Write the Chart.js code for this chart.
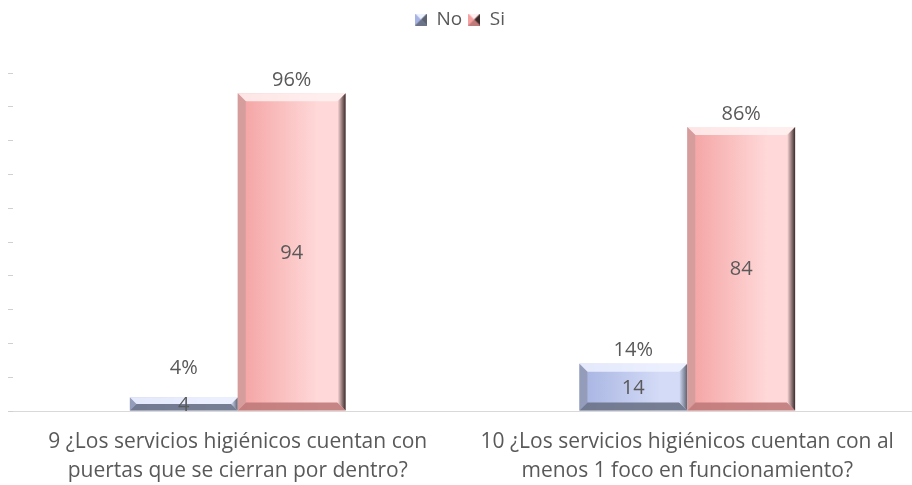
<!DOCTYPE html>
<html>
<head>
<meta charset="utf-8">
<script src="https://cdn.jsdelivr.net/npm/chart.js@4/dist/chart.umd.min.js"></script>
<style>
  html, body { margin: 0; padding: 0; background: #fff; }
  #wrap { width: 912px; height: 485px; }
</style>
</head>
<body>
<div id="wrap"><canvas id="chart"></canvas></div>
<script>
// datos del gráfico
const categories = [
  ["9 ¿Los servicios higiénicos cuentan con", "puertas que se cierran por dentro?"],
  ["10 ¿Los servicios higiénicos cuentan con al", "menos 1 foco en funcionamiento?"],
];
const seriesNames = ["No", "Si"];
const noValues = [4, 14];
const siValues = [94, 84];
const yTicks = [0, 10, 20, 30, 40, 50, 60, 70, 80, 90, 100];

// paleta de cada serie: base, claro, bisel claro, bisel oscuro, borde
const palettes = [
  { base: "#a7b3e2", light: "#d3dbf6", top: "#eef2ff", bottom: "#6b7388", side: "#8a92a8", edge: "#5c6270" },
  { base: "#f4a1a1", light: "#ffd9d9", top: "#fff1f1", bottom: "#c07a7a", side: "#c99a9a", edge: "#3a2a2a" },
];

const textColor = "#595959";
const fontFamily = "'Open Sans', 'Liberation Sans', sans-serif";

// Icono pequeño con bisel para la leyenda
function legendIcon(p) {
  const c = document.createElement("canvas");
  c.width = 12; c.height = 12;
  const g = c.getContext("2d");
  g.fillStyle = p.base; g.fillRect(0, 0, 12, 12);
  g.fillStyle = p.top;
  g.beginPath(); g.moveTo(0, 0); g.lineTo(12, 0); g.lineTo(6, 6); g.closePath(); g.fill();
  g.fillStyle = p.bottom;
  g.beginPath(); g.moveTo(0, 12); g.lineTo(12, 12); g.lineTo(6, 6); g.closePath(); g.fill();
  g.fillStyle = p.edge;
  g.beginPath(); g.moveTo(12, 0); g.lineTo(12, 12); g.lineTo(6, 6); g.closePath(); g.fill();
  return c;
}

// Dibuja cada barra con efecto biselado usando la geometría que calcula Chart.js
const bevelBars = {
  id: "bevelBars",
  afterDatasetsDraw(chart) {
    const ctx = chart.ctx;
    chart.data.datasets.forEach((ds, di) => {
      const p = palettes[di];
      chart.getDatasetMeta(di).data.forEach((bar) => {
        const x0 = bar.x - bar.width / 2;
        const x1 = bar.x + bar.width / 2;
        const y0 = bar.y;
        const y1 = bar.base;
        const h = y1 - y0;
        const b = Math.min(8, h / 2);
        ctx.save();
        const grad = ctx.createLinearGradient(x0, 0, x1, 0);
        grad.addColorStop(0, p.base);
        grad.addColorStop(0.75, p.light);
        grad.addColorStop(1, p.light);
        ctx.fillStyle = grad;
        ctx.fillRect(x0, y0, x1 - x0, h);
        // bisel superior
        ctx.fillStyle = p.top;
        ctx.globalAlpha = 0.85;
        ctx.beginPath();
        ctx.moveTo(x0, y0); ctx.lineTo(x1, y0); ctx.lineTo(x1 - b, y0 + b); ctx.lineTo(x0 + b, y0 + b);
        ctx.closePath(); ctx.fill();
        // bisel inferior
        ctx.globalAlpha = 0.9;
        ctx.fillStyle = p.bottom;
        ctx.beginPath();
        ctx.moveTo(x0, y1); ctx.lineTo(x1, y1); ctx.lineTo(x1 - b, y1 - b); ctx.lineTo(x0 + b, y1 - b);
        ctx.closePath(); ctx.fill();
        // bisel izquierdo
        ctx.fillStyle = p.side;
        ctx.globalAlpha = 0.7;
        ctx.beginPath();
        ctx.moveTo(x0, y0); ctx.lineTo(x0 + b, y0 + b); ctx.lineTo(x0 + b, y1 - b); ctx.lineTo(x0, y1);
        ctx.closePath(); ctx.fill();
        // bisel derecho (oscuro)
        const rg = ctx.createLinearGradient(x1 - b, 0, x1, 0);
        rg.addColorStop(0, p.light);
        rg.addColorStop(1, p.edge);
        ctx.globalAlpha = 1;
        ctx.fillStyle = rg;
        ctx.beginPath();
        ctx.moveTo(x1, y0); ctx.lineTo(x1 - b, y0 + b); ctx.lineTo(x1 - b, y1 - b); ctx.lineTo(x1, y1);
        ctx.closePath(); ctx.fill();
        ctx.restore();
      });
    });
    // etiquetas: porcentaje arriba, valor al centro
    ctx.save();
    ctx.font = "20px " + fontFamily;
    ctx.fillStyle = textColor;
    ctx.textAlign = "center";
    chart.data.datasets.forEach((ds, di) => {
      chart.getDatasetMeta(di).data.forEach((bar, i) => {
        const total = noValues[i] + siValues[i];
        const v = ds.data[i];
        const pct = Math.round((v / total) * 100) + "%";
        ctx.textBaseline = "middle";
        ctx.fillText(pct, bar.x, bar.y - (v < 10 ? 29 : 13));
        ctx.fillText(String(v), bar.x, (bar.y + bar.base) / 2 + 1);
      });
    });
    ctx.restore();
  },
};

// Espacio extra bajo la leyenda
const legendGap = {
  id: "legendGap",
  beforeInit(chart) {
    const fit = chart.legend.fit;
    chart.legend.fit = function () {
      fit.bind(chart.legend)();
      this.height += 34;
    };
  },
};

const ctx = document.getElementById("chart");
new Chart(ctx, {
  type: "bar",
  data: {
    labels: categories,
    datasets: [
      { label: seriesNames[0], data: noValues, backgroundColor: "rgba(0,0,0,0)" },
      { label: seriesNames[1], data: siValues, backgroundColor: "rgba(0,0,0,0)" },
    ],
  },
  options: {
    responsive: true,
    maintainAspectRatio: false,
    animation: false,
    layout: { padding: { left: 8, right: 0, top: 4, bottom: 0 } },
    datasets: { bar: { categoryPercentage: 0.48, barPercentage: 1 } },
    plugins: {
      tooltip: { enabled: false },
      legend: {
        position: "top",
        labels: {
          usePointStyle: true,
          generateLabels(chart) {
            return chart.data.datasets.map((ds, i) => ({
              text: ds.label,
              pointStyle: legendIcon(palettes[i]),
              fontColor: textColor,
              datasetIndex: i,
              hidden: false,
            }));
          },
          font: { size: 19, family: fontFamily },
          color: textColor,
          boxWidth: 12,
          padding: 6,
        },
      },
    },
    scales: {
      x: {
        grid: { display: false, drawTicks: false },
        border: { display: true, color: "#d9d9d9", width: 1 },
        afterFit(scale) {
          scale.height = 74;
        },
        ticks: {
          color: textColor,
          font: { size: 21, family: fontFamily, lineHeight: 1.4 },
          padding: 16,
          maxRotation: 0,
          autoSkip: false,
        },
      },
      y: {
        min: 0,
        max: 100,
        afterBuildTicks(scale) {
          scale.ticks = yTicks.map((v) => ({ value: v }));
        },
        border: { display: false },
        grid: { drawOnChartArea: false, drawTicks: true, tickLength: 5, color: "#d0d0d0" },
        ticks: { display: false },
      },
    },
  },
  plugins: [bevelBars, legendGap],
});
</script>
</body>
</html>
